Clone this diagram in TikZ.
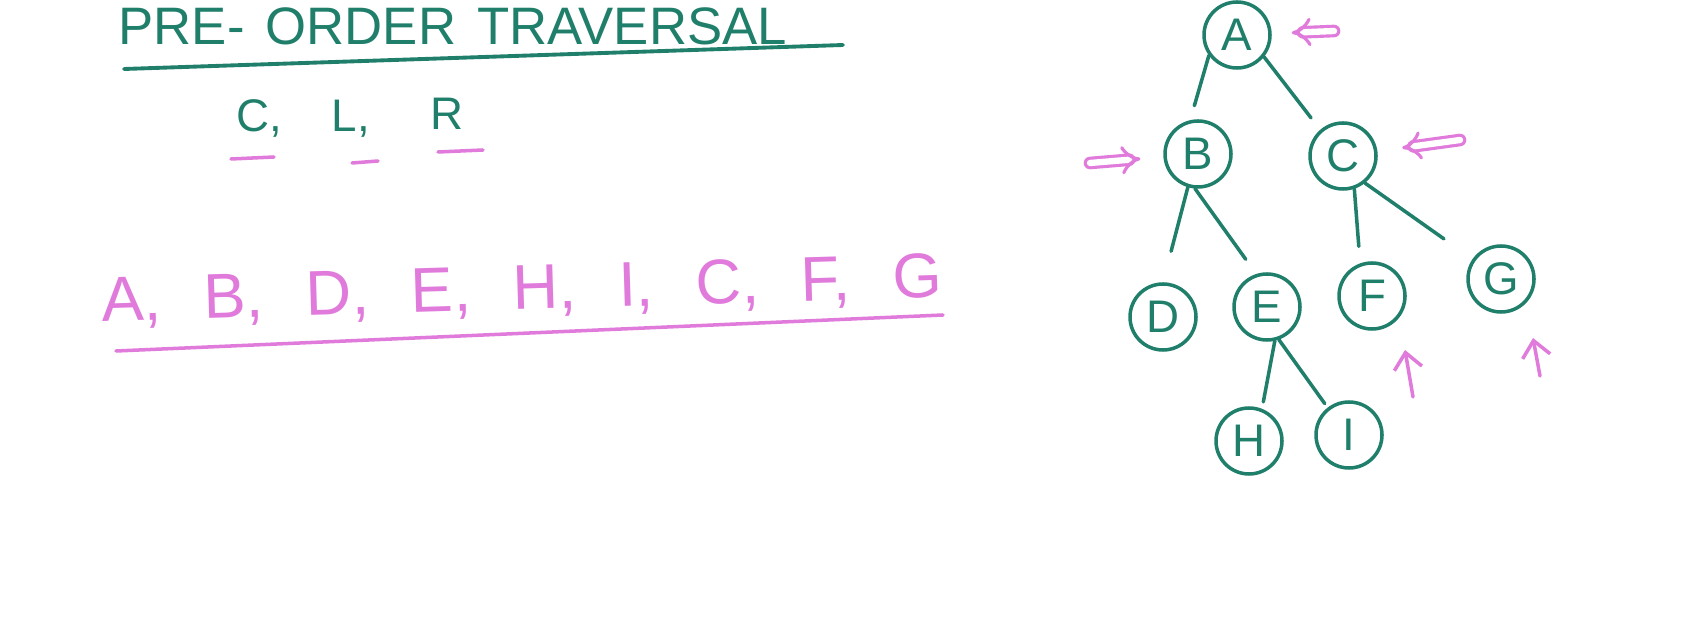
\documentclass[tikz,border=0pt]{standalone}
\usepackage{fontspec}
\setmainfont{Liberation Sans}
\usepackage{tikz}
\usetikzlibrary{arrows.meta, positioning}
\definecolor{inkteal}{HTML}{1F7F6A}
\definecolor{inkpink}{HTML}{E07BDC}
\newcommand{\seqfont}{\fontsize{18}{18}\selectfont\spaceskip 12pt\relax}
\newcommand{\titlefont}{\fontsize{15}{15}\selectfont\spaceskip 6pt\relax}
\tikzset{
  treenode/.style={
    circle, draw=inkteal, line width=1pt,
    minimum size=6.6mm, inner sep=0pt,
    text=inkteal, font=\fontsize{13}{13}\selectfont,
  },
  branch/.style={draw=inkteal, line width=1pt, line cap=round, shorten >=1.5mm},
  heading/.style={anchor=base west, inner sep=0pt, text=inkteal, font=\titlefont},
  rule/.style={anchor=base west, inner sep=0pt, text=inkteal,
    font=\fontsize{13}{13}\selectfont},
  answer/.style={anchor=base west, inner sep=0pt, text=inkpink, font=\seqfont},
  tealline/.style={draw=inkteal, line width=1.1pt, line cap=round},
  pinkline/.style={draw=inkpink, line width=1pt, line cap=round},
  pointer/.style={draw=inkpink, line width=0.9pt, double, double distance=1.8pt,
    -{Implies[scale=1.3]}, line cap=round},
  uparrow/.style={draw=inkpink, line width=1pt, line cap=round,
    -{Straight Barb[length=1.6mm, width=2.8mm]}},
}

\begin{document}
\begin{tikzpicture}[x=0.1mm, y=-0.1mm]
  \useasboundingbox (0,0) rectangle (1684,632);

  \node[heading] (title) at (118,45) {PRE- ORDER TRAVERSAL};
  \draw[tealline] (124,69) -- (843,45);

  \node[rule] (ruleC) at (236,132) {C,};
  \node[rule] (ruleL) at (331,132) {L,};
  \node[rule] (ruleR) at (430,130) {R};
  \draw[pinkline] (231,159) -- (274,157);
  \draw[pinkline] (352,163) -- (378,161);
  \draw[pinkline] (438,152) -- (483,150);

  \node[answer, rotate=1.7] (order) at (102,322) {A, B, D, E, H, I, C, F, G};
  \draw[pinkline] (116,351) -- (943,315);

  \node[treenode] (A) at (1237,35) {A};
  \node[treenode] (B) at (1198,154) {B};
  \node[treenode] (C) at (1343,156) {C};
  \node[treenode] (D) at (1163,317) {D};
  \node[treenode] (E) at (1267,307) {E};
  \node[treenode] (F) at (1372,296) {F};
  \node[treenode] (G) at (1501,279) {G};
  \node[treenode] (H) at (1249,441) {H};
  \node[treenode] (I) at (1349,435) {I};

  \draw[branch] (A.216) -- (B.103);
  \draw[branch] (A.321) -- (C.131);
  \draw[branch, shorten >=3.2mm] (B.253) -- (D.90);
  \draw[branch, shorten >=1.8mm] (B.265) -- (E.108);
  \draw[branch, shorten >=1.7mm] (C.289) -- (F.110);
  \draw[branch, shorten >=3.5mm] (C.309) -- (G.145);
  \draw[branch, shorten >=0.7mm] (E.283) -- (H.68);
  \draw[branch, shorten >=0.5mm] (E.290) -- (I.128);

  \coordinate (ptrA) at (1334,31);
  \coordinate (ptrB) at (1090,163);
  \coordinate (ptrC) at (1460,140);
  \coordinate (tailF) at (1413,397);
  \coordinate (tipF) at (1405,350);
  \coordinate (tailG) at (1540,376);
  \coordinate (tipG) at (1533,338);

  \draw[pointer, shorten >=2mm] (ptrA) -- (A);
  \draw[pointer, shorten >=2.3mm] (ptrB) -- (B);
  \draw[pointer, shorten >=2.5mm] (ptrC) -- (C);
  \draw[uparrow] (tailF) -- (tipF);
  \draw[uparrow] (tailG) -- (tipG);

\end{tikzpicture}
\end{document}
